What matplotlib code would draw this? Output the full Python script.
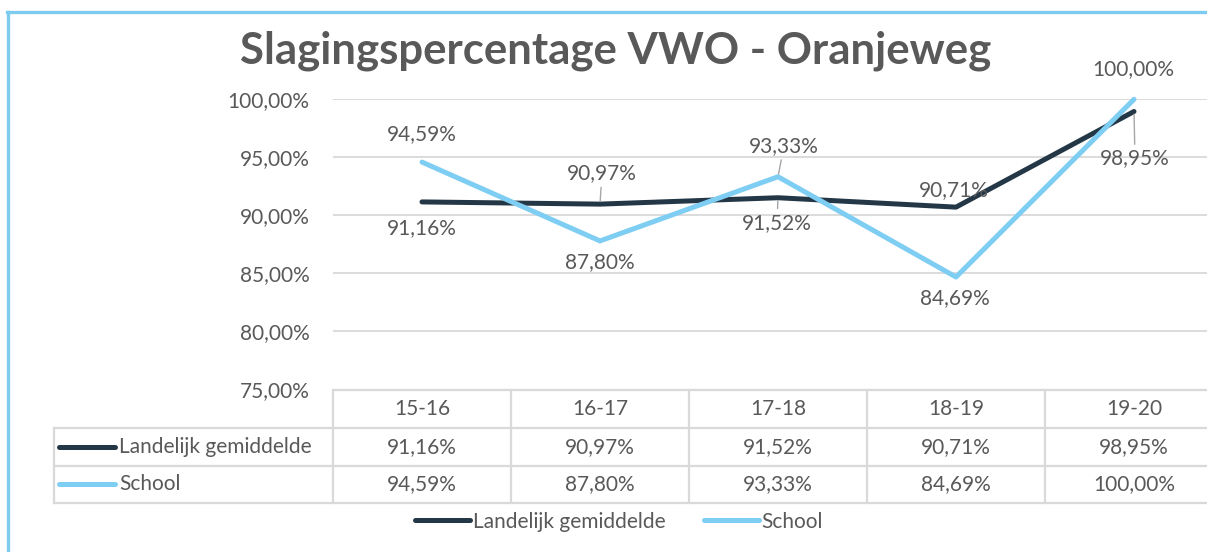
import matplotlib
matplotlib.use("Agg")
import matplotlib.pyplot as plt
from matplotlib.lines import Line2D

plt.rcParams['font.family'] = ['Lato', 'DejaVu Sans']

title = "Slagingspercentage VWO - Oranjeweg"
categories = ["15-16", "16-17", "17-18", "18-19", "19-20"]
series_names = ["Landelijk gemiddelde", "School"]
landelijk = [91.16, 90.97, 91.52, 90.71, 98.95]
school = [94.59, 87.80, 93.33, 84.69, 100.00]
y_ticks = [75, 80, 85, 90, 95, 100]

DARK = "#243746"
LIGHT = "#7ECDF2"
TXT = "#595959"
GRID = "#D9D9D9"
BORDER = "#7DCBEF"
FS = 15

W, H = 1207, 552
fig = plt.figure(figsize=(W / 100, H / 100), dpi=100)

def fx(px):
    return px / W

def fy(py):
    return 1 - py / H

# border (top + left)
fig.add_artist(Line2D([fx(7), fx(1207)], [fy(12), fy(12)], color=BORDER, lw=2.4))
fig.add_artist(Line2D([fx(8), fx(8)], [fy(12), fy(552)], color=BORDER, lw=2.4))

fig.text(fx(616), fy(51), title, ha="center", va="center", fontsize=31.5,
         fontweight="bold", color=TXT)

colw = 178.0
x0 = 333.0
x1 = x0 + colw * 5
ytop, ybot = 99.3, 389.5
ax = fig.add_axes([fx(x0), fy(ybot), fx(x1) - fx(x0), fy(ytop) - fy(ybot)])
ax.set_xlim(-0.5, 4.5)
ax.set_ylim(75, 100)
for s in ax.spines.values():
    s.set_visible(False)
ax.set_xticks([])
ax.set_yticks(y_ticks)
ax.set_yticklabels([f"{v:.2f}".replace(".", ",") + "%" for v in y_ticks])
ax.tick_params(axis="y", length=0, pad=17, labelsize=FS, labelcolor=TXT)
ax.grid(axis="y", color=GRID, lw=1.3)
ax.set_axisbelow(True)

xs = list(range(len(categories)))
ax.plot(xs, landelijk, color=DARK, lw=3.6, solid_capstyle="round",
        solid_joinstyle="round", clip_on=False, zorder=3)
ax.plot(xs, school, color=LIGHT, lw=3.6, solid_capstyle="round",
        solid_joinstyle="round", clip_on=False, zorder=4)

def fmt(v):
    return f"{v:.2f}".replace(".", ",") + "%"

land_off = [(0, -26, False), (2, 31, True), (-1, -25, True), (-2, 17, False), (1, -47, True)]
school_off = [(0, 28, False), (0, -21, False), (6, 31, True), (-1, -21, False), (-1, 30, False)]
for vals, offs in ((landelijk, land_off), (school, school_off)):
    for i, (v, (dx, dy, lead)) in enumerate(zip(vals, offs)):
        kw = {}
        if lead:
            kw["arrowprops"] = dict(arrowstyle="-", color="#A6A6A6", lw=1,
                                    shrinkA=1, shrinkB=2)
        ax.annotate(fmt(v), xy=(i, v), xytext=(dx, dy), textcoords="offset pixels",
                    ha="center", va="center", fontsize=FS, color=TXT,
                    annotation_clip=False, zorder=5, **kw)

# data table
tl = 54.0
tb_top, tb_bot = 390.0, 503.3
tax = fig.add_axes([fx(tl), fy(tb_bot), fx(x1) - fx(tl), fy(tb_top) - fy(tb_bot)])
xl = -0.5 - (x0 - tl) / colw
tax.set_xlim(xl, 4.5)
tax.set_ylim(3, 0)
tax.axis("off")
lc = dict(color=GRID, lw=1.6, clip_on=False)
tax.plot([-0.5, 4.5], [0, 0], **lc)
for r in (1, 2, 3):
    tax.plot([xl, 4.5], [r, r], **lc)
for c in [-0.5 + k for k in range(6)]:
    tax.plot([c, c], [0, 3], **lc)
tax.plot([xl, xl], [1, 3], **lc)

for i, cat in enumerate(categories):
    tax.text(i, 0.5, cat, ha="center", va="center", fontsize=FS, color=TXT)
for r, (name, vals, col) in enumerate(((series_names[0], landelijk, DARK),
                                        (series_names[1], school, LIGHT)), start=1):
    tax.plot([xl + 5 / colw, xl + 61 / colw], [r + 0.5, r + 0.5], color=col, lw=3.6,
             solid_capstyle="round", clip_on=False)
    tax.text(xl + 65 / colw, r + 0.5, name, ha="left", va="center", fontsize=FS, color=TXT)
    for i, v in enumerate(vals):
        tax.text(i, r + 0.5, fmt(v), ha="center", va="center", fontsize=FS, color=TXT)

handles = [Line2D([], [], color=DARK, lw=3.6, solid_capstyle="round"),
           Line2D([], [], color=LIGHT, lw=3.6, solid_capstyle="round")]
fpx = FS * 100 / 72
fig.legend(handles, series_names, loc="center", bbox_to_anchor=(fx(619), fy(521.7)),
           ncol=2, frameon=False, fontsize=FS, labelcolor=TXT,
           handlelength=55 / fpx, handletextpad=3 / fpx, columnspacing=38 / fpx,
           borderpad=0, borderaxespad=0)

fig.savefig("out.png", dpi=100, facecolor="white")
